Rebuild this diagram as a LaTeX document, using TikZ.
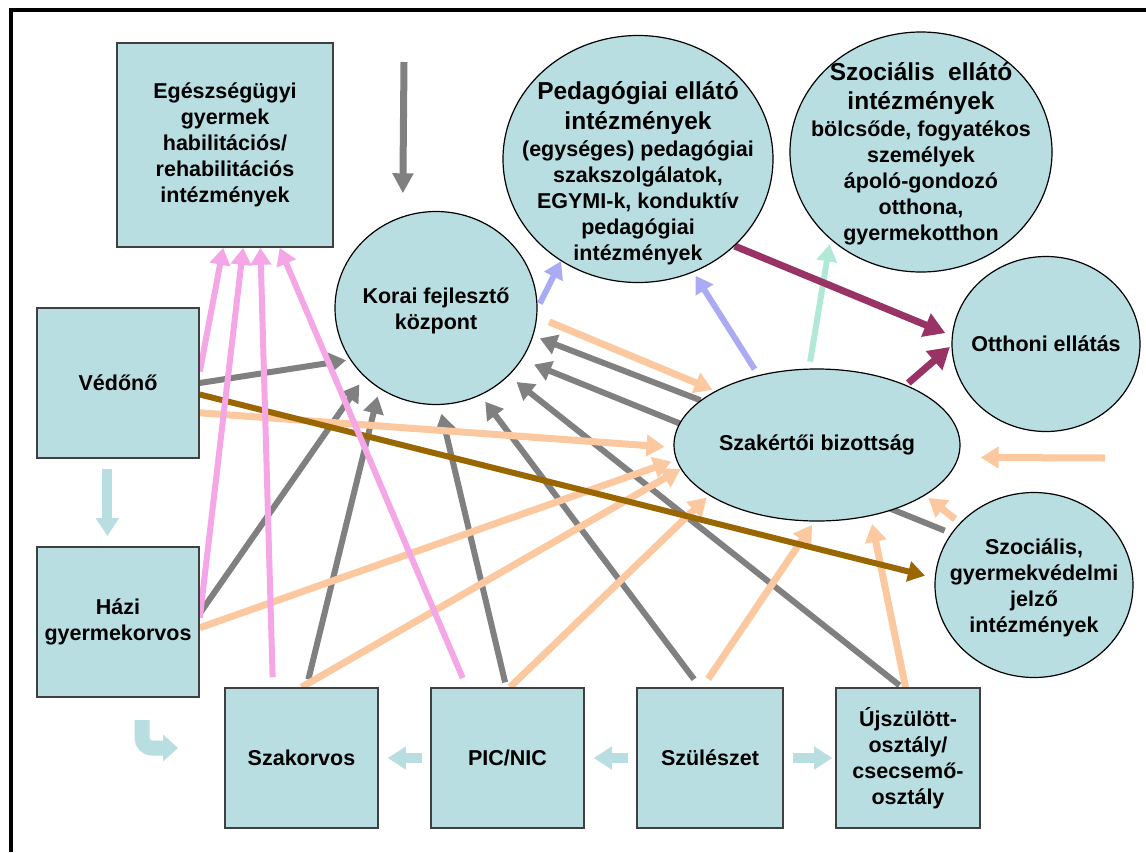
\documentclass[tikz,border=0pt]{standalone}
\usepackage{fontspec}
\setmainfont{Liberation Sans}
\usetikzlibrary{positioning}
\usetikzlibrary{shapes.geometric,arrows.meta,backgrounds}

\definecolor{cellfill}{RGB}{185,222,225}
\definecolor{cellline}{RGB}{64,64,64}
\definecolor{refgray}{RGB}{128,128,128}
\definecolor{refpink}{RGB}{244,166,230}
\definecolor{refpeach}{RGB}{251,200,160}
\definecolor{refbrown}{RGB}{153,102,0}
\definecolor{reflilac}{RGB}{170,170,245}
\definecolor{refmint}{RGB}{176,234,214}
\definecolor{refplum}{RGB}{153,51,102}

\newcommand{\bigline}[1]{{\fontsize{24.5}{30}\selectfont #1}}

\begin{document}
\begin{tikzpicture}
    [
    x=1pt, y=-1pt,
    on grid,
    box/.style={draw=cellline, line width=1.6pt, fill=cellfill, inner sep=0pt, align=center, font=\bfseries\fontsize{21.5}{26}\selectfont},
    oval/.style={ellipse, draw=black, line width=1.2pt, fill=cellfill, inner sep=0pt},
    ovaltext/.style={align=center, inner sep=0pt, font=\bfseries\fontsize{21.5}{26}\selectfont},
    grayref/.style={draw=refgray, line width=6pt, -{Triangle[width=20pt,length=17pt]}},
    pinkref/.style={draw=refpink, line width=6pt, -{Triangle[width=20pt,length=17pt]}},
    peachref/.style={draw=refpeach, line width=7pt, -{Triangle[width=21pt,length=18pt]}},
    brownref/.style={draw=refbrown, line width=6pt, -{Triangle[width=20pt,length=17pt]}},
    lilacref/.style={draw=reflilac, line width=6pt, -{Triangle[width=20pt,length=17pt]}},
    mintref/.style={draw=refmint, line width=6pt, -{Triangle[width=20pt,length=17pt]}},
    plumref/.style={draw=refplum, line width=7pt, -{Triangle[width=24pt,length=21pt]}},
    flow/.style={draw=cellfill, line width=10pt, -{Triangle[width=22pt,length=18pt]}},
    hook/.style={draw=cellfill, line width=15pt, rounded corners=10pt, -{Triangle[width=26pt,length=15pt]}},
    ]

    \useasboundingbox (0,0) rectangle (1146,852);
    \draw[line width=4pt] (1146,10) -- (11,10) -- (11,852);

    \node[box, minimum width=216pt, minimum height=204pt] (ege) at (225,145)
    {Egészségügyi\\gyermek\\habilitációs/\\rehabilitációs\\intézmények};
    \node[box, minimum width=162pt, minimum height=150pt] (ved) at (118,383) {Védőnő};
    \node[box, minimum width=162pt, minimum height=150pt, below=239pt of ved] (hazi) {Házi\\gyermekorvos};

    \node[box, minimum width=153pt, minimum height=140pt] (szako) at (301.5,758) {Szakorvos};
    \node[box, minimum width=153pt, minimum height=140pt, right=206pt of szako] (pic) {PIC/NIC};
    \node[box, minimum width=146pt, minimum height=140pt, right=202.5pt of pic] (szul) {Szülészet};
    \node[box, minimum width=144pt, minimum height=140pt, right=198pt of szul] (ujsz)
    {Újszülött-\\osztály/\\csecsemő-\\osztály};

    \node[oval, minimum width=202pt, minimum height=193pt] (kor) at (436,308) {};
    \node[ovaltext, yshift=-3pt] (kor_txt) at (kor) {Korai fejlesztő\\központ};

    \node[oval, minimum width=270pt, minimum height=247pt] (ped) at (638,159) {};
    \node[ovaltext, yshift=-14pt] (ped_txt) at (ped)
    {\bigline{Pedagógiai ellátó}\\[4pt]\bigline{intézmények}\\[1pt](egységes) pedagógiai\\szakszolgálatok,\\EGYMI-k, konduktív\\pedagógiai\\intézmények};

    \node[oval, minimum width=262pt, minimum height=240pt] (szoc) at (921,152) {};
    \node[ovaltext, yshift=-2pt] (szoc_txt) at (szoc)
    {\bigline{Szociális\ \ ellátó}\\[3pt]\bigline{intézmények}\\[1pt]bölcsőde, fogyatékos\\személyek\\ápoló-gondozó\\otthona,\\gyermekotthon};

    \node[oval, minimum width=188pt, minimum height=175pt] (otth) at (1046,344) {};
    \node[ovaltext] (otth_txt) at (otth) {Otthoni ellátás};

    \node[oval, minimum width=286pt, minimum height=152pt] (szak) at (817,445) {};
    \node[ovaltext] (szak_txt) at (szak) {Szakértői bizottság};

    \node[oval, minimum width=198pt, minimum height=185pt] (jelzo) at (1034,585) {};
    \node[ovaltext, yshift=-3pt] (jelzo_txt) at (jelzo)
    {Szociális,\\gyermekvédelmi\\jelző\\intézmények};

    \coordinate (topin) at (404,62);
    \coordinate (sidein) at (1105,458);
    \coordinate (hook_a) at (142,720);
    \coordinate (hook_b) at (178,748);

    \begin{pgfonlayer}{background}
    \draw[grayref, shorten >=4pt] (ved.0) -- (kor.211);
    \draw[grayref, shorten >=9pt] (hazi.6) -- (kor.224);
    \draw[grayref, shorten <=8pt, shorten >=8pt] (szako.86) -- (kor.235);
    \draw[grayref, shorten <=5pt, shorten >=9pt] (pic.91) -- (kor.272);
    \draw[grayref, shorten <=10pt, shorten >=8pt] (szul.98) -- (kor.297);
    \draw[grayref, shorten <=3pt, shorten >=10pt] (ujsz.95) -- (kor.317);
    \draw[grayref, shorten <=7pt, shorten >=13pt] (jelzo.148) -- (kor.329);
    \draw[grayref, shorten >=7pt] (szak.159) -- (kor.344);
    \draw[grayref, line width=7pt, -{Triangle[width=20pt,length=20pt]}, shorten >=23pt] (topin) -- (kor.110);

    \draw[peachref, shorten >=9pt] (ved.340) -- (szak.181);
    \draw[peachref, shorten >=5pt] (hazi.356) -- (szak.186);
    \draw[peachref] (szako.90) -- (szak.190);
    \draw[peachref, shorten >=3pt] (pic.88) -- (szak.205);
    \draw[peachref, shorten <=10pt, shorten >=4pt] (szul.96) -- (szak.268);
    \draw[peachref, shorten >=8pt] (ujsz.92) -- (szak.307);
    \draw[peachref, shorten <=6pt, shorten >=4pt] (jelzo.140) -- (szak.335);
    \draw[peachref, shorten <=13pt, shorten >=3pt] (kor.355) -- (szak.152);
    \draw[peachref, shorten >=22pt] (sidein) -- (szak.-5);

    \draw[brownref, shorten >=10pt] (ved.352) -- (jelzo.176);

    \draw[pinkref] (ved.8) -- (ege.269);
    \draw[pinkref] (hazi.3) -- (ege.280);
    \draw[pinkref, shorten <=10pt] (szako.112) -- (ege.289);
    \draw[pinkref, shorten <=10pt] (pic.120) -- (ege.298);

    \draw[lilacref, shorten <=5pt] (kor.0) -- (ped.233);
    \draw[lilacref, shorten <=7pt, shorten >=4pt] (szak.130) -- (ped.296);
    \draw[mintref, shorten <=7pt, shorten >=5pt] (szak.96) -- (szoc.224);
    \draw[plumref, shorten >=7pt] (ped.318) -- (otth.175);
    \draw[plumref, shorten <=3pt, shorten >=2pt] (szak.34) -- (otth.181);

    \draw[flow, shorten <=10pt, shorten >=10pt] (ved.262) -- (hazi.98);
    \draw[flow, shorten <=8pt, shorten >=9pt] (szul.west) -- (pic.east);
    \draw[flow, shorten <=8pt, shorten >=9pt] (pic.west) -- (szako.east);
    \draw[flow, shorten <=9pt, shorten >=3pt] (szul.east) -- (ujsz.west);
    \draw[hook] (hook_a) |- (hook_b);
    \end{pgfonlayer}
\end{tikzpicture}
\end{document}
